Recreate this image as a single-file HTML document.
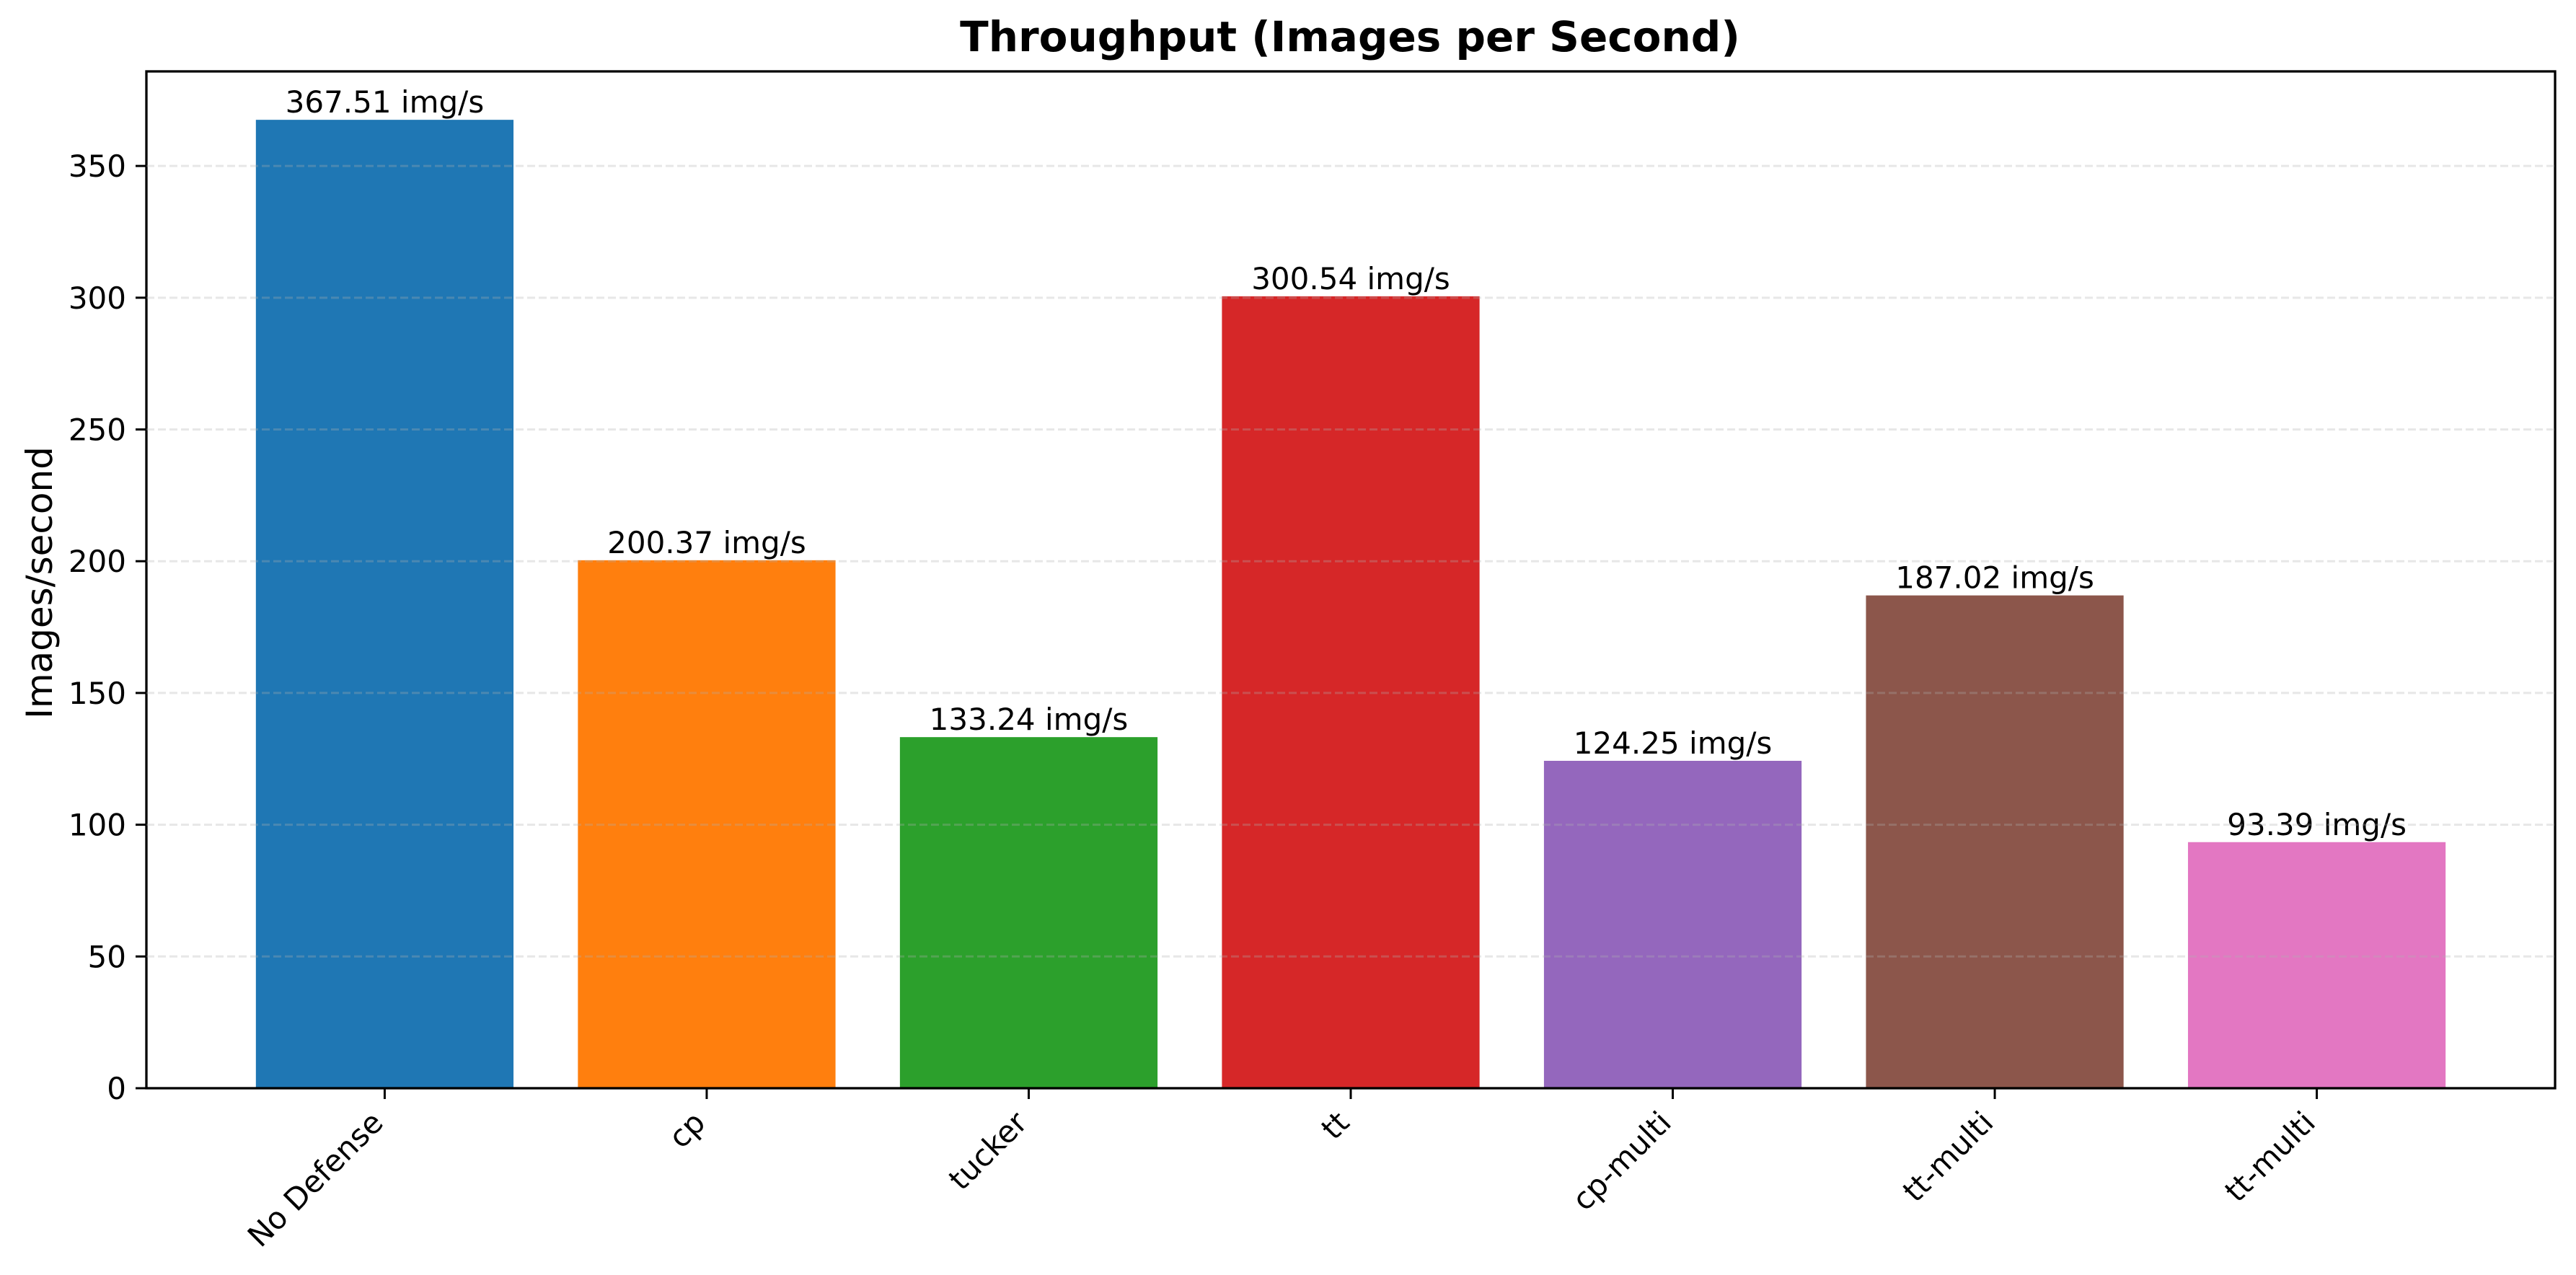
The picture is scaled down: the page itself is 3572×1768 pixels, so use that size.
<!DOCTYPE html>
<html><head><meta charset="utf-8"><style>
html,body{margin:0;padding:0;background:#fff;}
svg{display:block;font-family:"DejaVu Sans","Liberation Sans",sans-serif;}
</style></head><body>
<svg id="chart" width="3572" height="1768" viewBox="0 0 3572 1768">
<rect width="3572" height="1768" fill="#fff"/>
<text x="1872" y="71" font-size="58" font-weight="bold" text-anchor="middle">Throughput (Images per Second)</text>
<text transform="translate(72,808) rotate(-90)" font-size="50" text-anchor="middle">Images/second</text>
<g id="grid"></g><g id="bars"></g><g id="labels"></g><g id="yticks"></g><g id="xticks"></g>
<rect x="203" y="99" width="3340" height="1410" fill="none" stroke="#000" stroke-width="3.3"/>
</svg>
<script>
const categories = ["No Defense","cp","tucker","tt","cp-multi","tt-multi","tt-multi"];
const values = [367.51,200.37,133.24,300.54,124.25,187.02,93.39];
const valueLabels = ["367.51 img/s","200.37 img/s","133.24 img/s","300.54 img/s","124.25 img/s","187.02 img/s","93.39 img/s"];
const yTicks = [0,50,100,150,200,250,300,350];
const colors = ["#1f77b4","#ff7f0e","#2ca02c","#d62728","#9467bd","#8c564b","#e377c2"];

const NS="http://www.w3.org/2000/svg";
const L=203,R=3543,T=99,B=1509;
const xmin=-0.74, xmax=categories.length-1+0.74;
const ymax=Math.max(...values)*1.05;
const xs=v=>L+(v-xmin)/(xmax-xmin)*(R-L);
const ys=v=>B-v/ymax*(B-T);
const bw=0.8*(xs(1)-xs(0));
function mk(tag,attrs,parent){const e=document.createElementNS(NS,tag);for(const k in attrs)e.setAttribute(k,attrs[k]);document.getElementById(parent).appendChild(e);return e;}

values.forEach((v,i)=>{
  const cx=xs(i);
  const r=mk('rect',{x:cx-bw/2,y:ys(v),width:bw,height:B-ys(v),fill:colors[i]},'bars');
  
  
  const t=mk('text',{x:cx,y:ys(v)-10,'font-size':42,'text-anchor':'middle'},'labels');
  t.textContent=valueLabels[i];
  
  
  const tk=mk('line',{x1:cx,x2:cx,y1:B,y2:B+15,stroke:'#000','stroke-width':3},'xticks');
  
  
  const xl=mk('text',{transform:`translate(${cx-22},${B+28}) rotate(-45)`,'font-size':42,'text-anchor':'end',dy:'0.75em'},'xticks');
  xl.textContent=categories[i];
  
  
});
yTicks.forEach(v=>{
  const y=ys(v);
  if(v>0){
    const g=mk('line',{x1:L,x2:R,y1:y,y2:y,stroke:'#b0b0b0','stroke-opacity':0.3,'stroke-width':3,'stroke-dasharray':'11 5'},'grid');
    
    
  }
  const tk=mk('line',{x1:L-15,x2:L,y1:y,y2:y,stroke:'#000','stroke-width':3},'yticks');
  
  
  const t=mk('text',{x:L-28,y:y+15,'font-size':42,'text-anchor':'end'},'yticks');
  t.textContent=v;
  
  
});
document.getElementById('chart').appendChild(document.getElementById('grid'));
</script>
</body></html>
